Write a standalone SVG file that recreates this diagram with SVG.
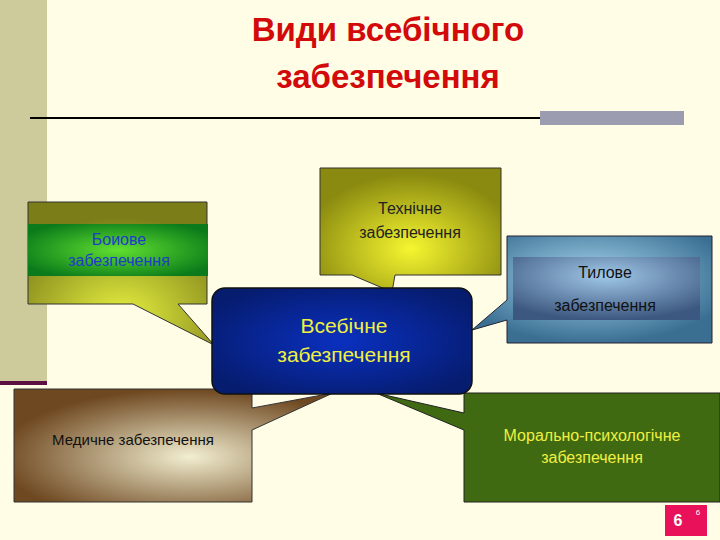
<svg xmlns="http://www.w3.org/2000/svg" width="720" height="540" viewBox="0 0 720 540">
<defs>
<style>
text{font-family:"Liberation Sans",Arial,sans-serif;text-anchor:middle}
.s{font-size:16px}
</style>
<radialGradient id="gOl" cx="0.5" cy="0.8" r="0.7"><stop offset="0" stop-color="#e6f040"/><stop offset="1" stop-color="#7a7d18"/></radialGradient>
<radialGradient id="gGr" cx="0.5" cy="0.5" r="0.6"><stop offset="0" stop-color="#60e030"/><stop offset="1" stop-color="#0a7a1a"/></radialGradient>
<radialGradient id="gY" cx="0.5" cy="0.65" r="0.6"><stop offset="0" stop-color="#f6f630"/><stop offset="1" stop-color="#8a8a10"/></radialGradient>
<radialGradient id="gB" cx="0.5" cy="0.4" r="0.6"><stop offset="0" stop-color="#a8d8f0"/><stop offset="1" stop-color="#3a6f92"/></radialGradient>
<radialGradient id="gBi" cx="0.5" cy="0.3" r="0.7"><stop offset="0" stop-color="#a0c8e8"/><stop offset="1" stop-color="#3d5880"/></radialGradient>
<radialGradient id="gC" cx="0.5" cy="0.5" r="0.6"><stop offset="0" stop-color="#0a30c0"/><stop offset="1" stop-color="#061c6e"/></radialGradient>
<radialGradient id="gM" cx="0.55" cy="0.6" r="0.6"><stop offset="0" stop-color="#f2eed0"/><stop offset="1" stop-color="#6e4820"/></radialGradient>
</defs>
<rect width="720" height="540" fill="#fffde6"/>
<rect x="0" y="0" width="47" height="383" fill="#cdcb9c"/>
<rect x="0" y="381" width="47" height="4" fill="#5a1040"/>
<line x1="30" y1="118" x2="684" y2="118" stroke="#000" stroke-width="2"/>
<rect x="540" y="111" width="144" height="14" fill="#9c9cb0"/>
<text x="388" y="41" font-size="33" font-weight="bold" fill="#d20a0a">Види всебічного</text>
<text x="388" y="88" font-size="33" font-weight="bold" fill="#d20a0a">забезпечення</text>
<g id="boiove">
<path d="M28,202 H207 V304 H178 L214,345 L133,304 H28 Z" fill="url(#gOl)" stroke="#333" stroke-width="1"/>
<rect x="28" y="224" width="180" height="52" fill="url(#gGr)"/>
<text x="119" y="245" class="s" fill="#1e3cc8">Боиове</text>
<text x="119" y="266" class="s" fill="#1e3cc8">забезпечення</text>
</g>
<g id="tekhnichne">
<path d="M320,168 H501 V275 H395 L392,292 L352,275 H320 Z" fill="url(#gY)" stroke="#333" stroke-width="1"/>
<text x="410" y="214" class="s" fill="#222">Технічне</text>
<text x="410" y="238" class="s" fill="#222">забезпечення</text>
</g>
<g id="tylove">
<path d="M507,236 H712 V343 H507 V320 L472,330 L507,300 Z" fill="url(#gB)" stroke="#223" stroke-width="1"/>
<rect x="513" y="257" width="187" height="63" fill="url(#gBi)"/>
<text x="605" y="278" class="s" fill="#111">Тилове</text>
<text x="605" y="311" class="s" fill="#111">забезпечення</text>
</g>
<g id="medychne">
<path d="M14,389 H252 V408 L333,393 L252,430 V502 H14 Z" fill="url(#gM)" stroke="#333" stroke-width="1"/>
<text x="133" y="445" font-size="15" fill="#111">Медичне забезпечення</text>
</g>
<g id="moralno">
<path d="M464,393 H720 V502 H464 V430 L376,393 L464,413 Z" fill="#3f6a12" stroke="#222" stroke-width="1"/>
<text x="592" y="441" class="s" fill="#f0f040">Морально-психологічне</text>
<text x="592" y="463" class="s" fill="#f0f040">забезпечення</text>
</g>
<g id="center">
<rect x="212" y="288" width="260" height="106" rx="13" fill="url(#gC)" stroke="#111" stroke-width="1.5"/>
<text x="344" y="333" font-size="21" fill="#f0f040">Всебічне</text>
<text x="344" y="362" font-size="21" fill="#f0f040">забезпечення</text>
</g>
<g id="connectors"></g>
<rect x="665" y="505" width="42" height="31" fill="#e8115a"/>
<text x="678" y="526" font-size="16" font-weight="bold" fill="#fff">6</text>
<text x="698" y="515" font-size="8" fill="#fff">6</text>
</svg>
